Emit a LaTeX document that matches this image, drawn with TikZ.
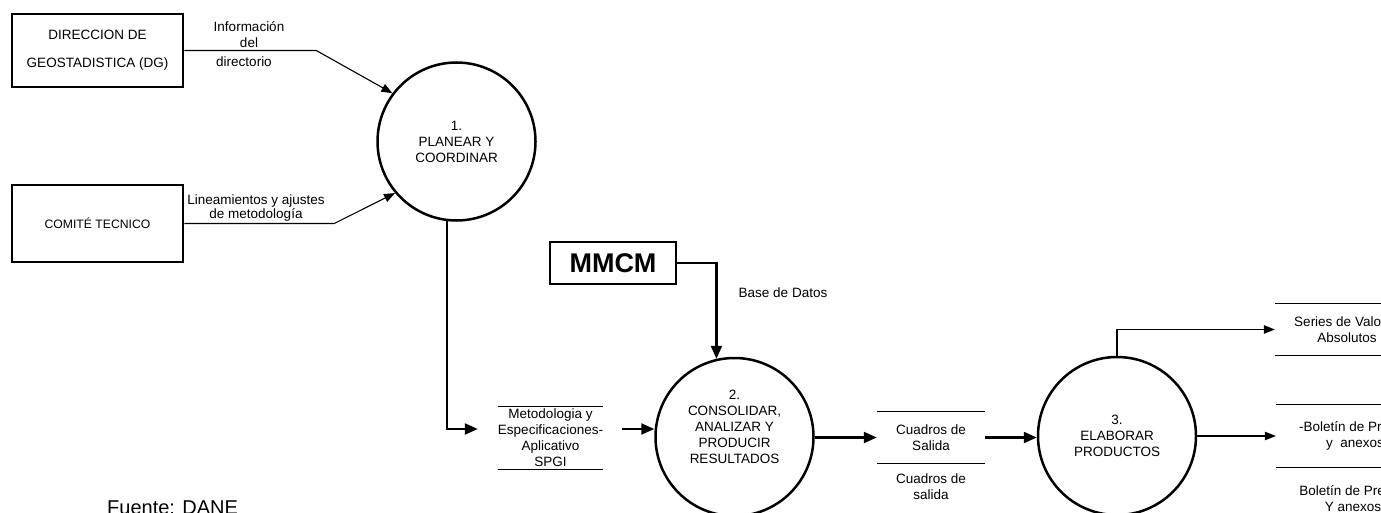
\documentclass[tikz,border=0pt]{standalone}
\usepackage{fontspec}
\setmainfont{Liberation Sans}
\usetikzlibrary{arrows.meta, positioning}

\begin{document}
\begin{tikzpicture}[
  x=1pt, y=-1pt,
  font=\fontsize{13.5}{16}\selectfont,
  entity/.style={
    draw, line width=2.5pt,
    minimum width=171pt, minimum height=73pt,
    align=center, inner sep=0pt
  },
  proc/.style={
    draw, circle, line width=2.5pt,
    minimum size=158pt, align=center, inner sep=0pt
  },
  store/.style={
    align=center, inner sep=0pt,
    append after command={
      (\tikzlastnode.north west) edge[line width=1pt] (\tikzlastnode.north east)
      (\tikzlastnode.south west) edge[line width=1pt] (\tikzlastnode.south east)}
  },
  lbl/.style={align=center, inner sep=0pt},
  flow/.style={-{Triangle[length=13pt,width=11pt]}, line width=2.2pt},
  thinflow/.style={-{Triangle[length=11pt,width=8.5pt]}, line width=1.1pt}
]
\clip (0,0) rectangle (1381,513);

% ---- External entities ----
\node[entity] (dg) at (97.5,50.5) {DIRECCION DE\\[12pt]GEOSTADISTICA (DG)};
\node[entity, minimum height=77pt, font=\fontsize{12.2}{14}\selectfont]
  (com) at (97.5,223.5) {COMITÉ TECNICO};
\node[entity, minimum width=126pt, minimum height=42pt,
      font=\fontsize{27}{30}\selectfont\bfseries] (mmcm) at (613,263) {MMCM};

% ---- Processes ----
\node[proc] (p1) at (456.5,141.5) {1.\\PLANEAR Y\\COORDINAR};
\node[proc] (p2) at (734.5,437)
  {2.\\CONSOLIDAR,\\ANALIZAR Y\\PRODUCIR\\RESULTADOS\\[4pt]\mbox{}};
\node[proc] (p3) at (1117,436) {3.\\ELABORAR\\PRODUCTOS};

% ---- Data stores ----
\node[store, minimum width=85pt, minimum height=62pt] (met) at (550.5,438)
  {Metodologia y\\Especificaciones-\\Aplicativo\\SPGI};
\node[store, minimum width=108pt, minimum height=51pt] (cs) at (931,437.5)
  {Cuadros de\\Salida};
\node[store, minimum width=144pt, minimum height=51pt] (ser) at (1347,329.5)
  {Series de Valores\\Absolutos};
\node[store, minimum width=158pt, minimum height=62pt] (bol) at (1355,436)
  {-Boletín de Prensa\\y~~anexos};

% ---- Store captions ----
\node[lbl, below=10pt of cs] (csc) {Cuadros de\\salida};
\node[lbl, below=18pt of bol, xshift=-2pt] (bolc) {Boletín de Prensa\\Y anexos};

% ---- Flow labels ----
\node[lbl] (l1) at (249,34.5) {Información\\del};
\node[lbl] (l2) at (244,62) {directorio};
\node[lbl] (l3) at (256,208) {Lineamientos y ajustes\\[-2.5pt]de metodología};
\node[lbl] (l4) at (783,293) {Base de Datos};

% ---- Source ----
\node[anchor=base west, inner sep=0pt, font=\fontsize{20}{24}\selectfont]
  (src) at (107,514.5) {Fuente: DANE};

% ---- Flows ----
\draw[thinflow] (dg.east) -- ++(132,0) -- (p1.143);
\draw[thinflow] (com.east) -- ++(150,0) -- (p1.220);
\draw[flow, shorten >=20pt] (p1.263) |- ([yshift=9pt]met.west);
\draw[flow, shorten <=19pt] ([yshift=9pt]met.east) -- ([yshift=9pt]met.east -| p2.west);
\draw[flow] (mmcm.east) -| (p2.103);
\draw[flow] (cs.west -| p2.east) -- (cs.west);
\draw[flow] (cs.east) -- (cs.east -| p3.west);
\draw[thinflow] (p3.north) |- (ser.west);
\draw[thinflow] (p3.east) -- (bol.west);

\end{tikzpicture}
\end{document}
